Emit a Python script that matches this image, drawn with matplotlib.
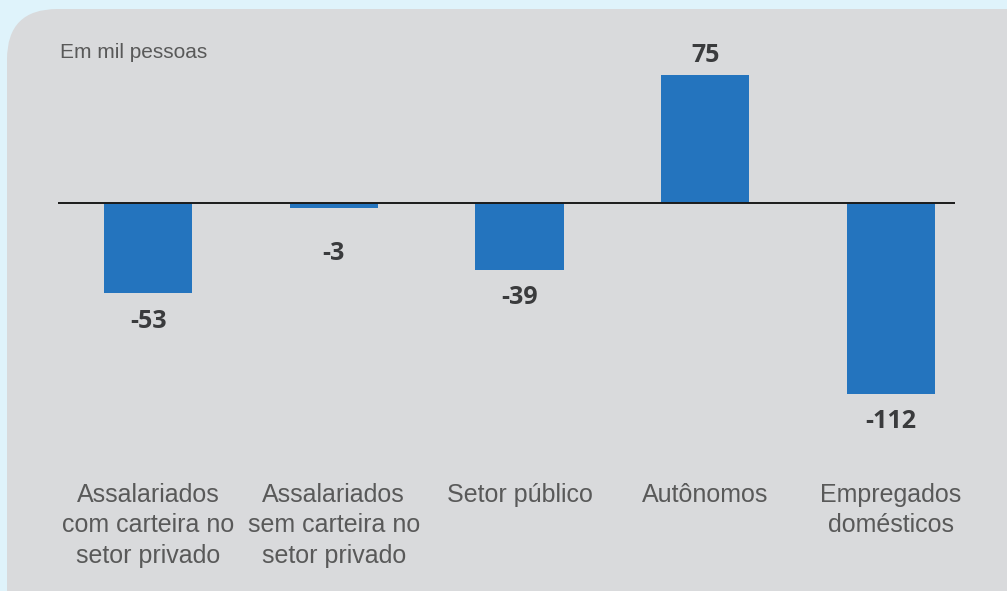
import numpy as np
import matplotlib.pyplot as plt
from matplotlib.patches import FancyBboxPatch

categorias = ['Assalariados\ncom carteira no\nsetor privado',
              'Assalariados\nsem carteira no\nsetor privado',
              'Setor público',
              'Autônomos',
              'Empregados\ndomésticos']
valores = [-53, -3, -39, 75, -112]
rotulos = ['-53', '-3', '-39', '75', '-112']

W, H = 1007, 591
fig = plt.figure(figsize=(W / 100, H / 100), dpi=100)
fig.patch.set_facecolor('#dff3fb')

# painel cinza com canto arredondado
painel = FancyBboxPatch((7 / W, -0.2), 1.2, 1.2 - 9 / H,
                        boxstyle='round,pad=0,rounding_size=0.05',
                        transform=fig.transFigure, facecolor='#d9dadc',
                        edgecolor='none', zorder=-10, mutation_aspect=W / H)
fig.patches.append(painel)

# eixo: linha zero de x=58 a 955 px, zero em y=203 px
ylo, yhi = -150, 100
escala = 1.707
y_top = 203 - yhi * escala
y_bot = 203 - ylo * escala
ax = fig.add_axes([58 / W, 1 - y_bot / H, (955 - 58) / W, (y_bot - y_top) / H])
ax.set_facecolor('none')
ax.set_zorder(5)

x = np.arange(len(valores))
ax.bar(x, valores, width=0.474, color='#2474be', zorder=2)
ax.axhline(0, color='#1a1a1a', lw=1.4, zorder=3)
ax.set_xlim(-0.485, 4.345)
ax.set_ylim(ylo, yhi)

for xi, v, r in zip(x, valores, rotulos):
    if v >= 0:
        ax.annotate(r, (xi, v), xytext=(0, 5), textcoords='offset points',
                    ha='center', va='bottom', fontsize=18, fontweight='bold',
                    family='Open Sans', color='#3a3b3d')
    else:
        # rótulo de barra muito curta fica mais afastado da linha zero
        dy = -11 if v < -10 else -24
        ax.annotate(r, (xi, v), xytext=(0, dy), textcoords='offset points',
                    ha='center', va='top', fontsize=18, fontweight='bold',
                    family='Open Sans', color='#3a3b3d')

ax.set_xticks(x)
ax.set_xticklabels(categorias, fontsize=18, family='Liberation Sans',
                   color='#595959', linespacing=1.35)
ax.tick_params(axis='x', length=0, pad=17)
ax.set_yticks([])
for s in ax.spines.values():
    s.set_visible(False)

fig.text(60 / W, 1 - 53 / H, 'Em mil pessoas', fontsize=15,
         family='Liberation Sans', color='#595959', va='center', ha='left',
         zorder=6)

fig.savefig('out.png', dpi=100, facecolor=fig.get_facecolor())
